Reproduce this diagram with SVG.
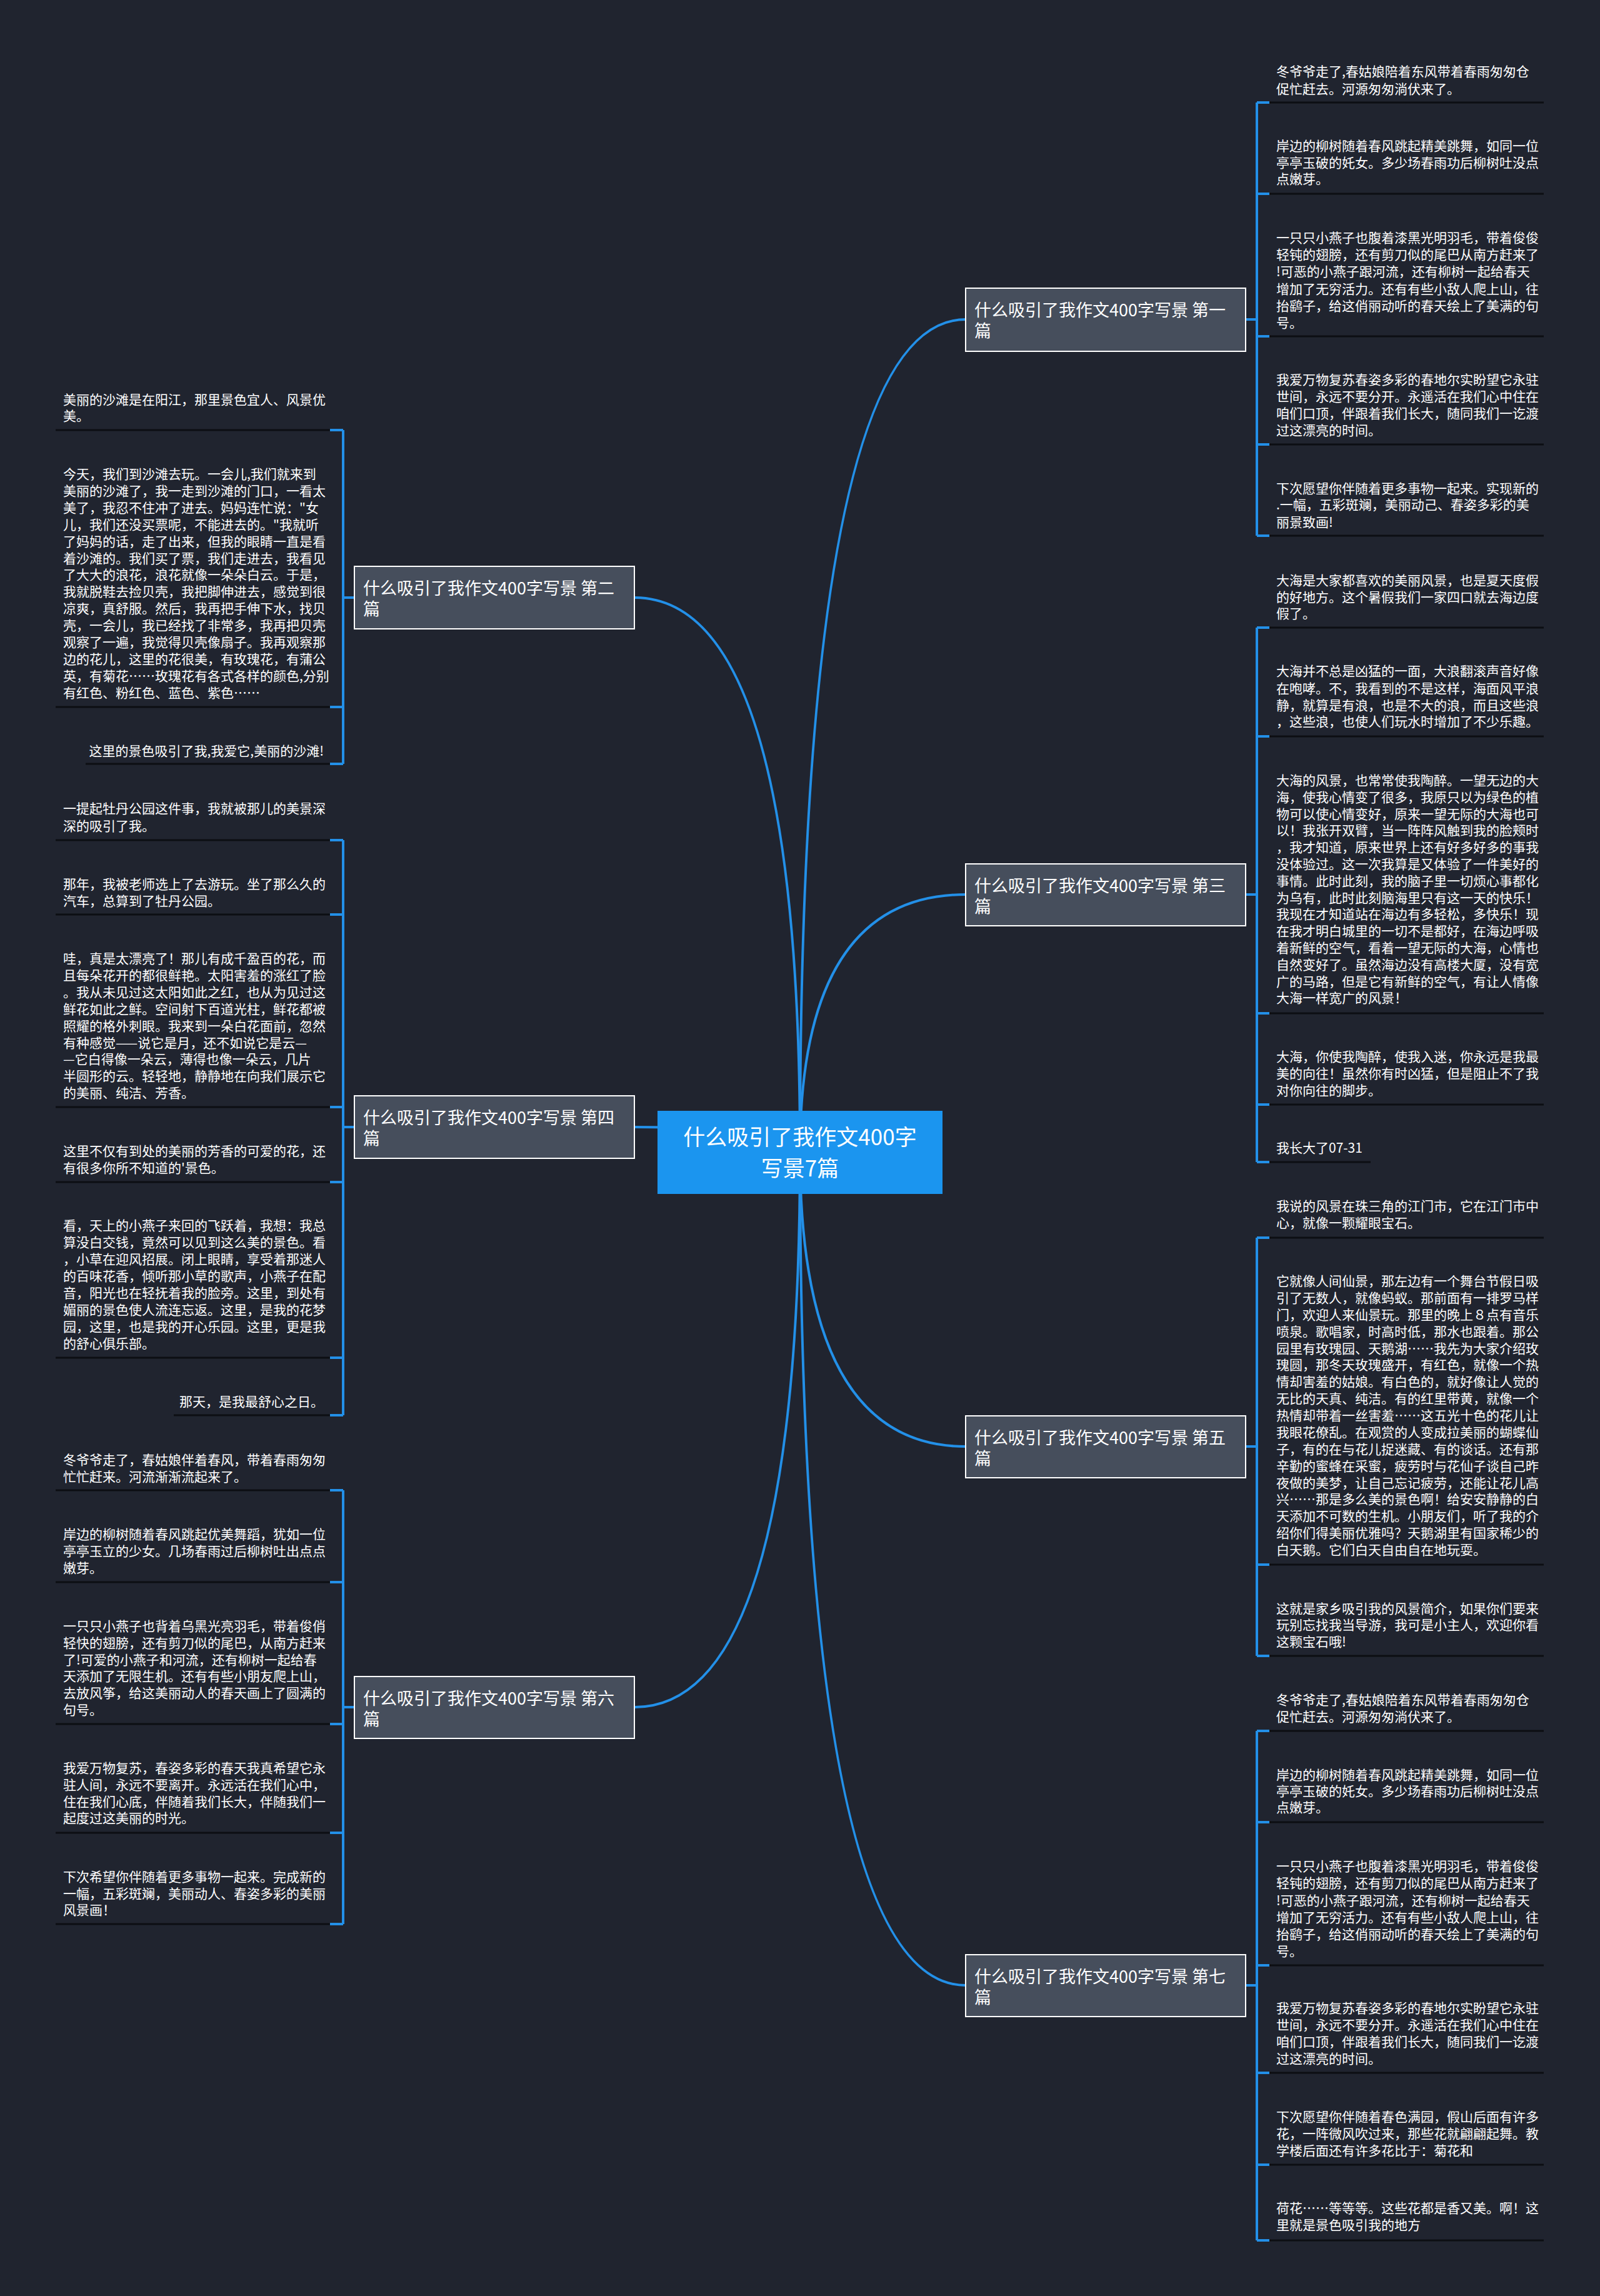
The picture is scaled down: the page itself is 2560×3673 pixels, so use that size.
<svg xmlns="http://www.w3.org/2000/svg" width="2560" height="3673" viewBox="0 0 2560 3673">
<style>
.t{font-family:"Noto Sans CJK SC","Noto Sans",sans-serif;font-size:21px;fill:#ffffff}
.nt{font-family:"Noto Sans CJK SC","Noto Sans",sans-serif;font-size:27px;fill:#ffffff}
.ct{font-family:"Noto Sans CJK SC","Noto Sans",sans-serif;font-size:35px;fill:#ffffff;text-anchor:middle}
.ul{stroke:#0c0e13;stroke-width:3;fill:none}
.c{stroke:#2390e8;stroke-width:4;fill:none}
.br{stroke:#2390e8;stroke-width:4;fill:none}
.nb{fill:#464e5c;stroke:#ffffff;stroke-width:2}
</style>
<rect x="0" y="0" width="2560" height="3673" fill="#20242f"/>

<g id="connectors">
<path class="c" d="M1280 1843 Q1280 511 1545 511"/>
<path class="c" d="M1280 1843 Q1280 1431 1545 1431"/>
<path class="c" d="M1280 1843 Q1280 2314 1545 2314"/>
<path class="c" d="M1280 1843 Q1280 3176 1545 3176"/>
<path class="c" d="M1280 1843 Q1280 956 1015 956"/>
<path class="c" d="M1280 1843 Q1280 1803 1015 1803"/>
<path class="c" d="M1280 1843 Q1280 2731 1015 2731"/>
<!-- right brackets -->
<path class="br" d="M1993 511H2011M2011 164V857M2011 164H2031M2011 310H2031M2011 538H2031M2011 711H2031M2011 857H2031"/>
<path class="br" d="M1993 1431H2011M2011 1004V1859M2011 1004H2031M2011 1178H2031M2011 1621H2031M2011 1767H2031M2011 1859H2031"/>
<path class="br" d="M1993 2314H2011M2011 1980V2649M2011 1980H2031M2011 2503H2031M2011 2649H2031"/>
<path class="br" d="M1993 3176H2011M2011 2769V3584M2011 2769H2031M2011 2915H2031M2011 3144H2031M2011 3316H2031M2011 3463H2031M2011 3584H2031"/>
<!-- left brackets -->
<path class="br" d="M567 956H549M549 688V1222M549 688H528M549 1131H528M549 1222H528"/>
<path class="br" d="M567 1803H549M549 1344V2264M549 1344H528M549 1463H528M549 1771H528M549 1891H528M549 2172H528M549 2264H528"/>
<path class="br" d="M567 2731H549M549 2384V3078M549 2384H528M549 2531H528M549 2758H528M549 2932H528M549 3078H528"/>
</g>

<g id="center">
<rect x="1052" y="1777" width="456" height="133" fill="#1b95ef"/>
<text class="ct"><tspan x="1280" y="1832">什么吸引了我作文400字</tspan><tspan x="1280" y="1882">写景7篇</tspan></text>
</g>

<g id="n1"><rect class="nb" x="1545" y="461" width="448" height="101"/><text class="nt"><tspan x="1559" y="506">什么吸引了我作文400字写景 第一</tspan><tspan x="1559" y="539">篇</tspan></text></g>
<g id="n2"><rect class="nb" x="567" y="906" width="448" height="100"/><text class="nt"><tspan x="581" y="951">什么吸引了我作文400字写景 第二</tspan><tspan x="581" y="984">篇</tspan></text></g>
<g id="n3"><rect class="nb" x="1545" y="1382" width="448" height="99"/><text class="nt"><tspan x="1559" y="1427">什么吸引了我作文400字写景 第三</tspan><tspan x="1559" y="1460">篇</tspan></text></g>
<g id="n4"><rect class="nb" x="567" y="1753" width="448" height="100"/><text class="nt"><tspan x="581" y="1798">什么吸引了我作文400字写景 第四</tspan><tspan x="581" y="1831">篇</tspan></text></g>
<g id="n5"><rect class="nb" x="1545" y="2265" width="448" height="99"/><text class="nt"><tspan x="1559" y="2310">什么吸引了我作文400字写景 第五</tspan><tspan x="1559" y="2343">篇</tspan></text></g>
<g id="n6"><rect class="nb" x="567" y="2682" width="448" height="99"/><text class="nt"><tspan x="581" y="2727">什么吸引了我作文400字写景 第六</tspan><tspan x="581" y="2760">篇</tspan></text></g>
<g id="n7"><rect class="nb" x="1545" y="3127" width="448" height="99"/><text class="nt"><tspan x="1559" y="3172">什么吸引了我作文400字写景 第七</tspan><tspan x="1559" y="3205">篇</tspan></text></g>

<!-- group 1 leaves -->
<g id="l1a"><text class="t"><tspan x="2042" y="122">冬爷爷走了,春姑娘陪着东风带着春雨匆匆仓</tspan><tspan x="2042" y="150">促忙赶去。河源匆匆淌伏来了。</tspan></text><path class="ul" d="M2031 164H2470"/></g>
<g id="l1b"><text class="t"><tspan x="2042" y="241">岸边的柳树随着春风跳起精美跳舞，如同一位</tspan><tspan x="2042" y="268">亭亭玉破的奼女。多少场春雨功后柳树吐没点</tspan><tspan x="2042" y="294">点嫩芽。</tspan></text><path class="ul" d="M2031 310H2470"/></g>
<g id="l1c"><text class="t"><tspan x="2042" y="388">一只只小燕子也腹着漆黑光明羽毛，带着俊俊</tspan><tspan x="2042" y="415">轻钝的翅膀，还有剪刀似的尾巴从南方赶来了</tspan><tspan x="2042" y="442">!可恶的小燕子跟河流，还有柳树一起给春天</tspan><tspan x="2042" y="470">增加了无穷活力。还有有些小敌人爬上山，往</tspan><tspan x="2042" y="497">抬鹞子，给这俏丽动听的春天绘上了美满的句</tspan><tspan x="2042" y="524">号。</tspan></text><path class="ul" d="M2031 538H2470"/></g>
<g id="l1d"><text class="t"><tspan x="2042" y="615">我爱万物复苏春姿多彩的春地尔实盼望它永驻</tspan><tspan x="2042" y="642">世间，永远不要分开。永遥活在我们心中住在</tspan><tspan x="2042" y="669">咱们口顶，伴跟着我们长大，随同我们一讫渡</tspan><tspan x="2042" y="696">过这漂亮的时间。</tspan></text><path class="ul" d="M2031 711H2470"/></g>
<g id="l1e"><text class="t"><tspan x="2042" y="789">下次愿望你伴随着更多事物一起来。实现新的</tspan><tspan x="2042" y="815">.一幅，五彩斑斓，美丽动己、春姿多彩的美</tspan><tspan x="2042" y="843">丽景致画!</tspan></text><path class="ul" d="M2031 857H2470"/></g>

<!-- group 3 leaves -->
<g id="l3a"><text class="t"><tspan x="2042" y="936">大海是大家都喜欢的美丽风景，也是夏天度假</tspan><tspan x="2042" y="963">的好地方。这个暑假我们一家四口就去海边度</tspan><tspan x="2042" y="989">假了。</tspan></text><path class="ul" d="M2031 1004H2470"/></g>
<g id="l3b"><text class="t"><tspan x="2042" y="1081">大海并不总是凶猛的一面，大浪翻滚声音好像</tspan><tspan x="2042" y="1109">在咆哮。不，我看到的不是这样，海面风平浪</tspan><tspan x="2042" y="1136">静，就算是有浪，也是不大的浪，而且这些浪</tspan><tspan x="2042" y="1162">，这些浪，也使人们玩水时增加了不少乐趣。</tspan></text><path class="ul" d="M2031 1178H2470"/></g>
<g id="l3c"><text class="t"><tspan x="2042" y="1256">大海的风景，也常常使我陶醉。一望无边的大</tspan><tspan x="2042" y="1283">海，使我心情变了很多，我原只以为绿色的植</tspan><tspan x="2042" y="1310">物可以使心情变好，原来一望无际的大海也可</tspan><tspan x="2042" y="1336">以！我张开双臂，当一阵阵风触到我的脸颊时</tspan><tspan x="2042" y="1363">，我才知道，原来世界上还有好多好多的事我</tspan><tspan x="2042" y="1390">没体验过。这一次我算是又体验了一件美好的</tspan><tspan x="2042" y="1417">事情。此时此刻，我的脑子里一切烦心事都化</tspan><tspan x="2042" y="1444">为乌有，此时此刻脑海里只有这一天的快乐！</tspan><tspan x="2042" y="1470">我现在才知道站在海边有多轻松，多快乐！现</tspan><tspan x="2042" y="1497">在我才明白城里的一切不是都好，在海边呼吸</tspan><tspan x="2042" y="1524">着新鲜的空气，看着一望无际的大海，心情也</tspan><tspan x="2042" y="1551">自然变好了。虽然海边没有高楼大厦，没有宽</tspan><tspan x="2042" y="1578">广的马路，但是它有新鲜的空气，有让人情像</tspan><tspan x="2042" y="1604">大海一样宽广的风景！</tspan></text><path class="ul" d="M2031 1621H2470"/></g>
<g id="l3d"><text class="t"><tspan x="2042" y="1698">大海，你使我陶醉，使我入迷，你永远是我最</tspan><tspan x="2042" y="1725">美的向往！虽然你有时凶猛，但是阻止不了我</tspan><tspan x="2042" y="1752">对你向往的脚步。</tspan></text><path class="ul" d="M2031 1767H2470"/></g>
<g id="l3e"><text class="t"><tspan x="2042" y="1844">我长大了07-31</tspan></text><path class="ul" d="M2031 1859H2193"/></g>

<!-- group 5 leaves -->
<g id="l5a"><text class="t"><tspan x="2042" y="1937">我说的风景在珠三角的江门市，它在江门市中</tspan><tspan x="2042" y="1964">心，就像一颗耀眼宝石。</tspan></text><path class="ul" d="M2031 1980H2470"/></g>
<g id="l5b"><text class="t"><tspan x="2042" y="2057">它就像人间仙景，那左边有一个舞台节假日吸</tspan><tspan x="2042" y="2084">引了无数人，就像蚂蚁。那前面有一排罗马样</tspan><tspan x="2042" y="2111">门，欢迎人来仙景玩。那里的晚上８点有音乐</tspan><tspan x="2042" y="2138">喷泉。歌唱家，时高时低，那水也跟着。那公</tspan><tspan x="2042" y="2165">园里有玫瑰园、天鹅湖……我先为大家介绍玫</tspan><tspan x="2042" y="2191">瑰圆，那冬天玫瑰盛开，有红色，就像一个热</tspan><tspan x="2042" y="2218">情却害羞的姑娘。有白色的，就好像让人觉的</tspan><tspan x="2042" y="2245">无比的天真、纯洁。有的红里带黄，就像一个</tspan><tspan x="2042" y="2272">热情却带着一丝害羞……这五光十色的花儿让</tspan><tspan x="2042" y="2299">我眼花僚乱。在观赏的人变成拉美丽的蝴蝶仙</tspan><tspan x="2042" y="2326">子，有的在与花儿捉迷藏、有的谈话。还有那</tspan><tspan x="2042" y="2353">辛勤的蜜蜂在采蜜，疲劳时与花仙子谈自己昨</tspan><tspan x="2042" y="2380">夜做的美梦，让自己忘记疲劳，还能让花儿高</tspan><tspan x="2042" y="2406">兴……那是多么美的景色啊！给安安静静的白</tspan><tspan x="2042" y="2433">天添加不可数的生机。小朋友们，听了我的介</tspan><tspan x="2042" y="2460">绍你们得美丽优雅吗？天鹅湖里有国家稀少的</tspan><tspan x="2042" y="2487">白天鹅。它们白天自由自在地玩耍。</tspan></text><path class="ul" d="M2031 2503H2470"/></g>
<g id="l5c"><text class="t"><tspan x="2042" y="2581">这就是家乡吸引我的风景简介，如果你们要来</tspan><tspan x="2042" y="2607">玩别忘找我当导游，我可是小主人，欢迎你看</tspan><tspan x="2042" y="2634">这颗宝石哦!</tspan></text><path class="ul" d="M2031 2649H2470"/></g>

<!-- group 7 leaves -->
<g id="l7a"><text class="t"><tspan x="2042" y="2727">冬爷爷走了,春姑娘陪着东风带着春雨匆匆仓</tspan><tspan x="2042" y="2754">促忙赶去。河源匆匆淌伏来了。</tspan></text><path class="ul" d="M2031 2769H2470"/></g>
<g id="l7b"><text class="t"><tspan x="2042" y="2847">岸边的柳树随着春风跳起精美跳舞，如同一位</tspan><tspan x="2042" y="2873">亭亭玉破的奼女。多少场春雨功后柳树吐没点</tspan><tspan x="2042" y="2899">点嫩芽。</tspan></text><path class="ul" d="M2031 2915H2470"/></g>
<g id="l7c"><text class="t"><tspan x="2042" y="2993">一只只小燕子也腹着漆黑光明羽毛，带着俊俊</tspan><tspan x="2042" y="3020">轻钝的翅膀，还有剪刀似的尾巴从南方赶来了</tspan><tspan x="2042" y="3048">!可恶的小燕子跟河流，还有柳树一起给春天</tspan><tspan x="2042" y="3075">增加了无穷活力。还有有些小敌人爬上山，往</tspan><tspan x="2042" y="3102">抬鹞子，给这俏丽动听的春天绘上了美满的句</tspan><tspan x="2042" y="3129">号。</tspan></text><path class="ul" d="M2031 3144H2470"/></g>
<g id="l7d"><text class="t"><tspan x="2042" y="3220">我爱万物复苏春姿多彩的春地尔实盼望它永驻</tspan><tspan x="2042" y="3247">世间，永远不要分开。永遥活在我们心中住在</tspan><tspan x="2042" y="3274">咱们口顶，伴跟着我们长大，随同我们一讫渡</tspan><tspan x="2042" y="3301">过这漂亮的时间。</tspan></text><path class="ul" d="M2031 3316H2470"/></g>
<g id="l7e"><text class="t"><tspan x="2042" y="3394">下次愿望你伴随着春色满园，假山后面有许多</tspan><tspan x="2042" y="3421">花，一阵微风吹过来，那些花就翩翩起舞。教</tspan><tspan x="2042" y="3448">学楼后面还有许多花比于：菊花和</tspan></text><path class="ul" d="M2031 3463H2470"/></g>
<g id="l7f"><text class="t"><tspan x="2042" y="3540">荷花……等等等。这些花都是香又美。啊！这</tspan><tspan x="2042" y="3567">里就是景色吸引我的地方</tspan></text><path class="ul" d="M2031 3584H2470"/></g>

<!-- group 2 leaves -->
<g id="l2a"><text class="t"><tspan x="101" y="647">美丽的沙滩是在阳江，那里景色宜人、风景优</tspan><tspan x="101" y="673">美。</tspan></text><path class="ul" d="M89 688H528"/></g>
<g id="l2b"><text class="t"><tspan x="101" y="766">今天，我们到沙滩去玩。一会儿,我们就来到</tspan><tspan x="101" y="793">美丽的沙滩了，我一走到沙滩的门口，一看太</tspan><tspan x="101" y="820">美了，我忍不住冲了进去。妈妈连忙说：&quot;女</tspan><tspan x="101" y="847">儿，我们还没买票呢，不能进去的。&quot;我就听</tspan><tspan x="101" y="874">了妈妈的话，走了出来，但我的眼睛一直是看</tspan><tspan x="101" y="901">着沙滩的。我们买了票，我们走进去，我看见</tspan><tspan x="101" y="927">了大大的浪花，浪花就像一朵朵白云。于是，</tspan><tspan x="101" y="954">我就脱鞋去捡贝壳，我把脚伸进去，感觉到很</tspan><tspan x="101" y="981">凉爽，真舒服。然后，我再把手伸下水，找贝</tspan><tspan x="101" y="1008">壳，一会儿，我已经找了非常多，我再把贝壳</tspan><tspan x="101" y="1035">观察了一遍，我觉得贝壳像扇子。我再观察那</tspan><tspan x="101" y="1062">边的花儿，这里的花很美，有玫瑰花，有蒲公</tspan><tspan x="101" y="1089">英，有菊花……玫瑰花有各式各样的颜色,分别</tspan><tspan x="101" y="1116">有红色、粉红色、蓝色、紫色……</tspan></text><path class="ul" d="M89 1131H528"/></g>
<g id="l2c"><text class="t" text-anchor="end"><tspan x="518" y="1209">这里的景色吸引了我,我爱它,美丽的沙滩!</tspan></text><path class="ul" d="M137 1222H528"/></g>

<!-- group 4 leaves -->
<g id="l4a"><text class="t"><tspan x="101" y="1301">一提起牡丹公园这件事，我就被那儿的美景深</tspan><tspan x="101" y="1329">深的吸引了我。</tspan></text><path class="ul" d="M89 1344H528"/></g>
<g id="l4b"><text class="t"><tspan x="101" y="1422">那年，我被老师选上了去游玩。坐了那么久的</tspan><tspan x="101" y="1449">汽车，总算到了牡丹公园。</tspan></text><path class="ul" d="M89 1463H528"/></g>
<g id="l4c"><text class="t"><tspan x="101" y="1541">哇，真是太漂亮了！那儿有成千盈百的花，而</tspan><tspan x="101" y="1568">且每朵花开的都很鲜艳。太阳害羞的涨红了脸</tspan><tspan x="101" y="1595">。我从未见过这太阳如此之红，也从为见过这</tspan><tspan x="101" y="1622">鲜花如此之鲜。空间射下百道光柱，鲜花都被</tspan><tspan x="101" y="1649">照耀的格外刺眼。我来到一朵白花面前，忽然</tspan><tspan x="101" y="1676">有种感觉——说它是月，还不如说它是云—</tspan><tspan x="101" y="1702">—它白得像一朵云，薄得也像一朵云，几片</tspan><tspan x="101" y="1729">半圆形的云。轻轻地，静静地在向我们展示它</tspan><tspan x="101" y="1756">的美丽、纯洁、芳香。</tspan></text><path class="ul" d="M89 1771H528"/></g>
<g id="l4d"><text class="t"><tspan x="101" y="1849">这里不仅有到处的美丽的芳香的可爱的花，还</tspan><tspan x="101" y="1876">有很多你所不知道的'景色。</tspan></text><path class="ul" d="M89 1891H528"/></g>
<g id="l4e"><text class="t"><tspan x="101" y="1968">看，天上的小燕子来回的飞跃着，我想：我总</tspan><tspan x="101" y="1995">算没白交钱，竟然可以见到这么美的景色。看</tspan><tspan x="101" y="2022">，小草在迎风招展。闭上眼睛，享受着那迷人</tspan><tspan x="101" y="2049">的百味花香，倾听那小草的歌声，小燕子在配</tspan><tspan x="101" y="2076">音，阳光也在轻抚着我的脸旁。这里，到处有</tspan><tspan x="101" y="2103">媚丽的景色使人流连忘返。这里，是我的花梦</tspan><tspan x="101" y="2130">园，这里，也是我的开心乐园。这里，更是我</tspan><tspan x="101" y="2157">的舒心俱乐部。</tspan></text><path class="ul" d="M89 2172H528"/></g>
<g id="l4f"><text class="t" text-anchor="end"><tspan x="518" y="2250">那天，是我最舒心之日。</tspan></text><path class="ul" d="M278 2264H528"/></g>

<!-- group 6 leaves -->
<g id="l6a"><text class="t"><tspan x="101" y="2343">冬爷爷走了，春姑娘伴着春风，带着春雨匆匆</tspan><tspan x="101" y="2370">忙忙赶来。河流渐渐流起来了。</tspan></text><path class="ul" d="M89 2384H528"/></g>
<g id="l6b"><text class="t"><tspan x="101" y="2462">岸边的柳树随着春风跳起优美舞蹈，犹如一位</tspan><tspan x="101" y="2489">亭亭玉立的少女。几场春雨过后柳树吐出点点</tspan><tspan x="101" y="2516">嫩芽。</tspan></text><path class="ul" d="M89 2531H528"/></g>
<g id="l6c"><text class="t"><tspan x="101" y="2609">一只只小燕子也背着乌黑光亮羽毛，带着俊俏</tspan><tspan x="101" y="2636">轻快的翅膀，还有剪刀似的尾巴，从南方赶来</tspan><tspan x="101" y="2663">了!可爱的小燕子和河流，还有柳树一起给春</tspan><tspan x="101" y="2689">天添加了无限生机。还有有些小朋友爬上山，</tspan><tspan x="101" y="2716">去放风筝，给这美丽动人的春天画上了圆满的</tspan><tspan x="101" y="2743">句号。</tspan></text><path class="ul" d="M89 2758H528"/></g>
<g id="l6d"><text class="t"><tspan x="101" y="2836">我爱万物复苏，春姿多彩的春天我真希望它永</tspan><tspan x="101" y="2863">驻人间，永远不要离开。永远活在我们心中，</tspan><tspan x="101" y="2890">住在我们心底，伴随着我们长大，伴随我们一</tspan><tspan x="101" y="2916">起度过这美丽的时光。</tspan></text><path class="ul" d="M89 2932H528"/></g>
<g id="l6e"><text class="t"><tspan x="101" y="3010">下次希望你伴随着更多事物一起来。完成新的</tspan><tspan x="101" y="3037">一幅，五彩斑斓，美丽动人、春姿多彩的美丽</tspan><tspan x="101" y="3063">风景画！</tspan></text><path class="ul" d="M89 3078H528"/></g>
</svg>
